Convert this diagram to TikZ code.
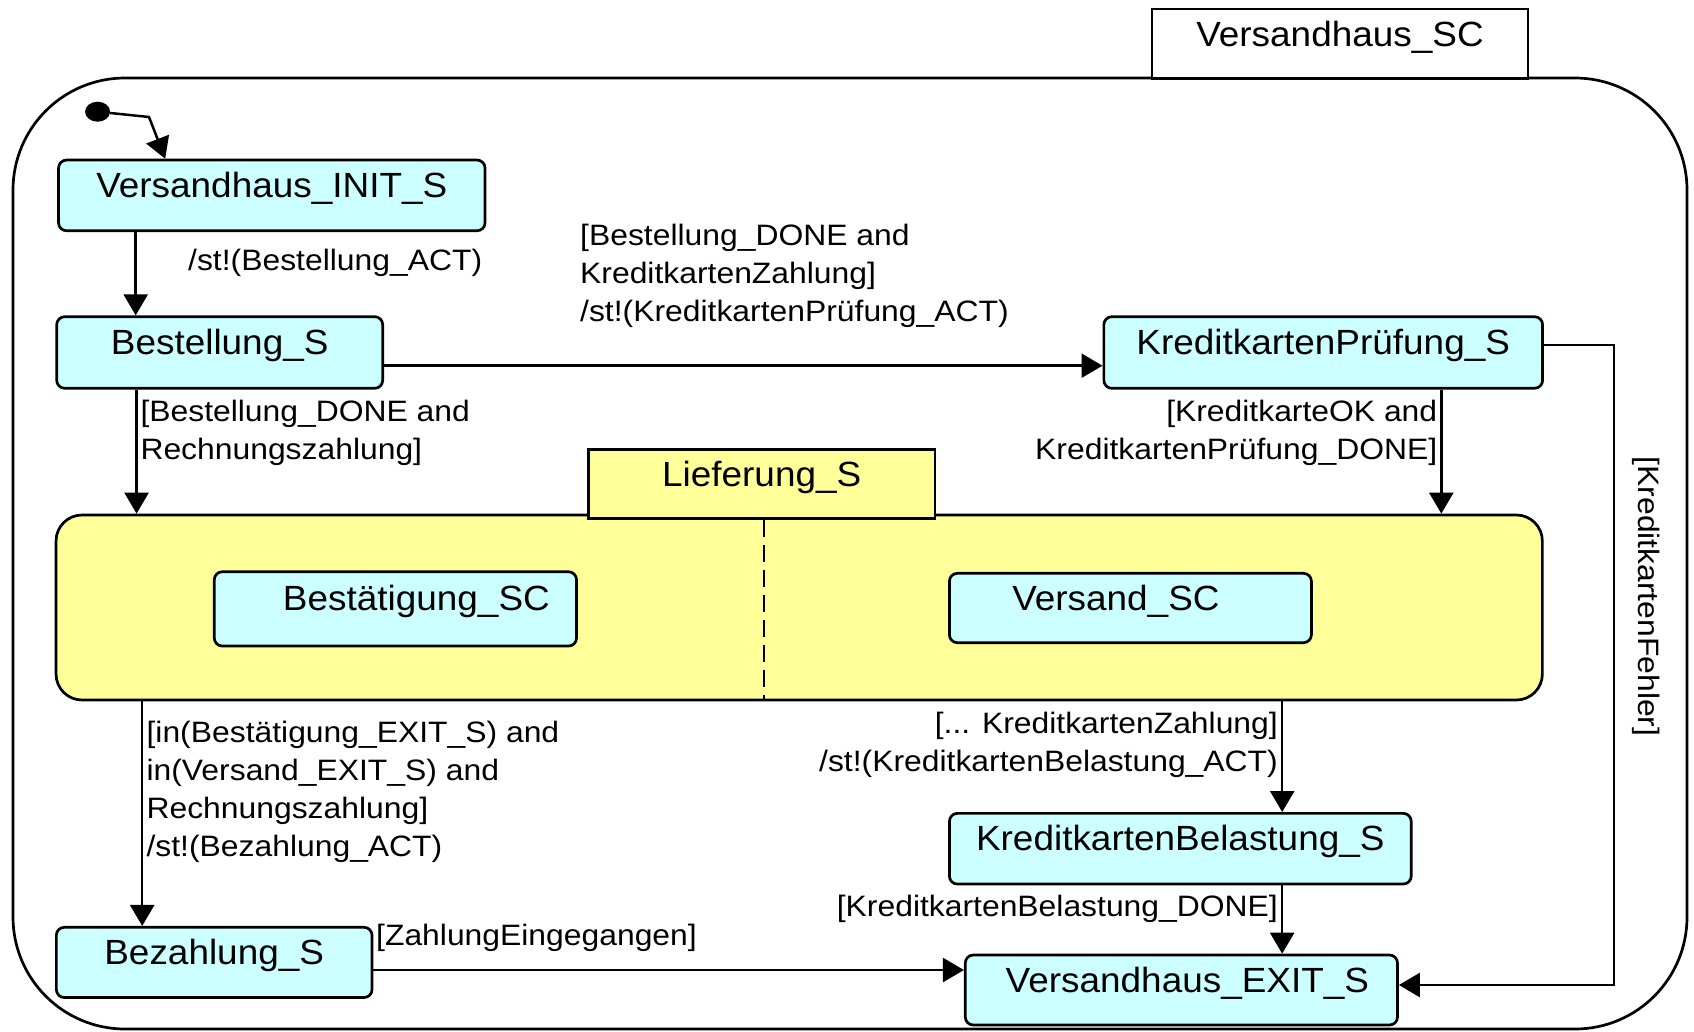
\documentclass[tikz,border=0pt]{standalone}
\usepackage{fontspec}
\setmainfont{Liberation Sans}
\newfontfamily\statefont{Liberation Sans}[FakeStretch=1.055]
\newfontfamily\guardfont{Liberation Sans}[FakeStretch=1.08]
\usetikzlibrary{arrows.meta,shapes.geometric}
\definecolor{stcyan}{HTML}{CCFFFF}
\definecolor{regyellow}{HTML}{FFFF99}

\tikzset{
  statebox/.style={draw, line width=2.7pt, rounded corners=8pt, fill=stcyan, inner sep=0pt,
    font=\statefont\fontsize{35}{40}\selectfont, text height=22pt, text depth=18pt},
  tabbox/.style={draw, line width=2.7pt, inner sep=0pt,
    font=\statefont\fontsize{35}{40}\selectfont, text height=22pt, text depth=16pt},
  guard/.style={inner sep=0pt, font=\guardfont\fontsize{29.5}{38}\selectfont},
  conn/.style={line width=2.5pt, -{Triangle[length=21pt,width=24pt]}},
}

\begin{document}
\begin{tikzpicture}[x=1pt,y=-1pt]
\fill[white] (0,0) rectangle (1694,1031);
\useasboundingbox (0,0) rectangle (1694,1031);

% top-level chart and its title tab
\node[draw, line width=2.7pt, rounded corners=112pt, minimum width=1674pt, minimum height=951pt, inner sep=0pt] (outer) at (850,553.5) {};
\node[tabbox, fill=white, minimum width=376pt, minimum height=69.3pt] (sctab) at (1340,43.7) {Versandhaus\_SC};

% initial pseudo-state
\node[ellipse, fill=black, minimum width=25pt, minimum height=20pt, inner sep=0pt] (dot) at (97.6,111.7) {};
\coordinate (ibend) at (149,117);

% states
\node[statebox, minimum width=426.5pt, minimum height=70.7pt] (init) at (271.8,195.4) {Versandhaus\_INIT\_S};
\node[statebox, minimum width=326pt, minimum height=71.6pt] (best) at (219.7,352.5) {Bestellung\_S};
\node[statebox, minimum width=438.7pt, minimum height=71.6pt] (kp) at (1323.2,352.5) {KreditkartenPrüfung\_S};

% parallel state Lieferung_S
\node[draw, line width=2.7pt, rounded corners=26pt, fill=regyellow, minimum width=1486.3pt, minimum height=185pt, inner sep=0pt] (lief) at (799.2,607.5) {};
\node[tabbox, fill=regyellow, minimum width=346.8pt, minimum height=69pt] (ltab) at (761.7,483.8) {Lieferung\_S};
\draw[line width=2.2pt, dash pattern=on 17pt off 8pt] ([xshift=2pt]ltab.south) -- ([xshift=2pt]ltab.south |- lief.south);
\node[statebox, minimum width=362.2pt, minimum height=74.3pt] (bestae) at (395.4,608.9) {\hspace*{42pt}Bestätigung\_SC};
\node[statebox, minimum width=362pt, minimum height=69.4pt] (vers) at (1130.4,608) {Versand\_SC\hspace*{29pt}};

\node[statebox, minimum width=461.8pt, minimum height=70.7pt] (kb) at (1180.3,848.7) {KreditkartenBelastung\_S};
\node[statebox, minimum width=432.2pt, minimum height=70pt] (exit) at (1181.4,990) {\hspace*{12pt}Versandhaus\_EXIT\_S};
\node[statebox, minimum width=315.7pt, minimum height=70.2pt] (bez) at (214.2,962.4) {Bezahlung\_S};

% transitions
\draw[conn] (dot) -- (ibend) -- ([xshift=108pt]init.north west);
\draw[conn] ([xshift=78.5pt]init.south west) -- ([xshift=78.5pt]init.south west |- best.north);
\draw[conn] ([yshift=-13.2pt]best.east) -- ([yshift=-13.2pt]best.east -| kp.west);
\draw[conn] ([xshift=81.2pt]best.south west) -- ([xshift=81.2pt]best.south west |- lief.north);
\draw[conn] ([xshift=338.8pt]kp.south west) -- ([xshift=338.8pt]kp.south west |- lief.north);
\coordinate (rcorner) at (1614.2,985);
\draw[conn] ([yshift=7.5pt]kp.east) -| (rcorner) -- ([yshift=5pt]exit.east);
\draw[conn] ([xshift=87.5pt]lief.south west) -- ([xshift=87.5pt]lief.south west |- bez.north);
\draw[conn] ([xshift=1227.5pt]lief.south west) -- ([xshift=1227.5pt]lief.south west |- kb.north);
\draw[conn] ([xshift=334.1pt]kb.south west) -- ([xshift=334.1pt]kb.south west |- exit.north);
\draw[conn] ([yshift=-7.6pt]bez.east) -- ([yshift=-7.6pt]bez.east -| exit.west);

% guards and actions
\node[guard, anchor=base west] (g1) at (188,270.7) {/st!(Bestellung\_ACT)};
\node[guard, anchor=north west, align=left] (g2) at (580,224) {[Bestellung\_DONE and\\KreditkartenZahlung]\\/st!(KreditkartenPrüfung\_ACT)};
\node[guard, anchor=north west, align=left] (g3) at (140.3,399.7) {[Bestellung\_DONE and\\Rechnungszahlung]};
\node[guard, anchor=north east, align=right] (g4) at (1437.4,399.7) {[KreditkarteOK and\\KreditkartenPrüfung\_DONE]};
\node[guard, anchor=north west, align=left] (g5) at (146.4,720.7) {[in(Bestätigung\_EXIT\_S) and\\in(Versand\_EXIT\_S) and\\Rechnungszahlung]\\/st!(Bezahlung\_ACT)};
\node[guard, anchor=north east, align=right] (g6) at (1278,712.3) {[... KreditkartenZahlung]\\/st!(KreditkartenBelastung\_ACT)};
\node[guard, anchor=base east] (g7) at (1278,916.7) {[KreditkartenBelastung\_DONE]};
\node[guard, anchor=base west] (g8) at (376,945) {[ZahlungEingegangen]};
\node[guard, rotate=-90] (g9) at (1646,596.5) {[KreditkartenFehler]};
\end{tikzpicture}
\end{document}
